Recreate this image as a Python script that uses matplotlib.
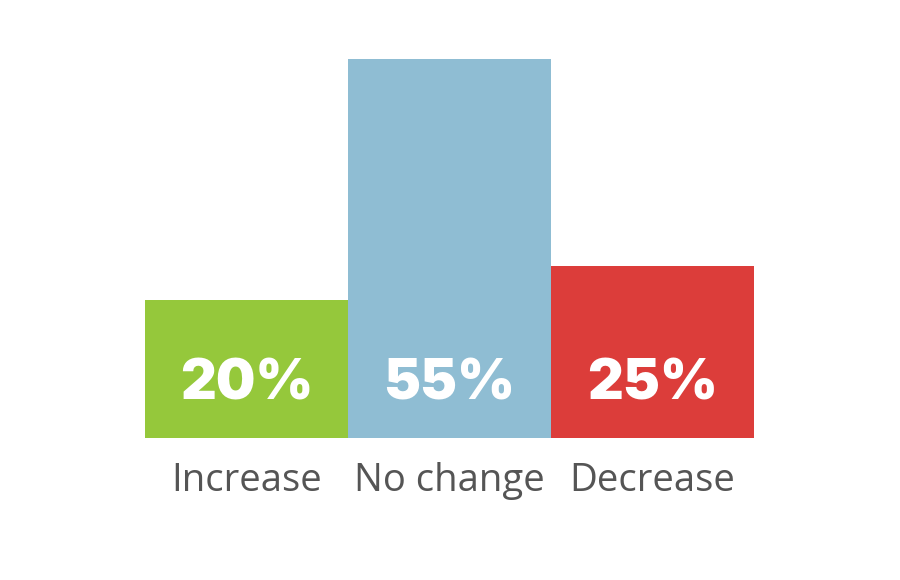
import matplotlib
matplotlib.use("Agg")
import matplotlib.pyplot as plt

categories = ["Increase", "No change", "Decrease"]
values = [20, 55, 25]
labels = ["20%", "55%", "25%"]
colors = ["#95C83B", "#8FBDD3", "#DC3D3A"]

fig = plt.figure(figsize=(9, 5.8), dpi=100)
ax = fig.add_axes([145 / 900, 142 / 580, 609 / 900, 379 / 580])

x = range(len(categories))
ax.bar(x, values, width=1.0, color=colors)

for i, lab in enumerate(labels):
    ax.text(i, 7.8, lab, ha="center", va="center", color="white",
            fontsize=40, fontweight="black", family="Inter")

for i, cat in enumerate(categories):
    ax.text(i, -6.3, cat, ha="center", va="center", color="#555555",
            fontsize=27.5, family="Open Sans")

ax.set_xlim(-0.5, 2.5)
ax.set_ylim(0, 55)
ax.axis("off")

fig.savefig("out.png", dpi=100)
